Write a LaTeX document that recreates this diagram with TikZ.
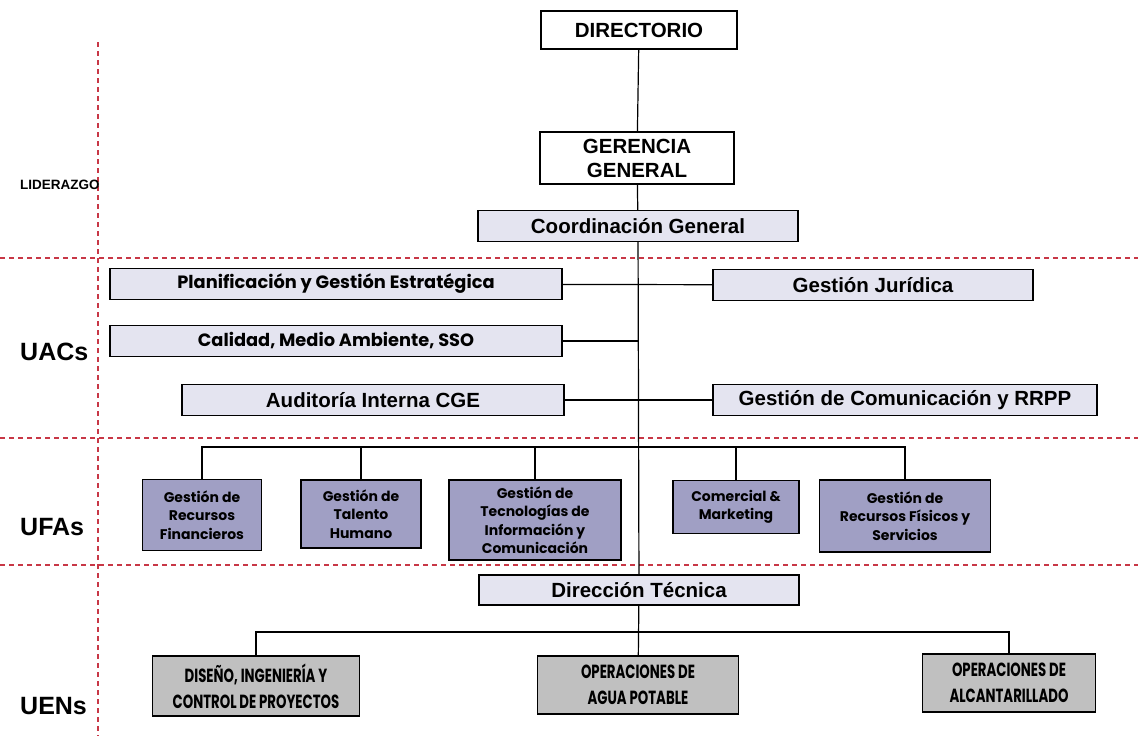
\documentclass[tikz,border=0pt]{standalone}
\usepackage{fontspec}
\setmainfont{Liberation Sans}
\newfontfamily\gothic{Poppins}
\newfontfamily\gothicnarrow[FakeStretch=0.7]{Poppins}
\usetikzlibrary{shapes}
\definecolor{cLight}{RGB}{228,228,240}
\definecolor{cPurple}{RGB}{160,159,196}
\definecolor{cGray}{RGB}{192,192,192}
\definecolor{cRed}{RGB}{200,55,70}
\tikzstyle{unit} = [draw, line width=1.4pt, rectangle, inner sep=0pt, align=center]
\tikzstyle{head} = [unit, fill=white, font=\fontsize{20.5}{24}\selectfont\bfseries]
\tikzstyle{uac} = [unit, fill=cLight, minimum height=31pt, font=\fontsize{20.5}{23}\selectfont\bfseries]
\tikzstyle{uacg} = [unit, fill=cLight, minimum height=31pt, font=\gothic\fontsize{17.8}{20}\selectfont\bfseries]
\tikzstyle{ufa} = [unit, fill=cPurple, font=\gothic\fontsize{14}{18.5}\selectfont\bfseries]
\tikzstyle{uen} = [unit, fill=cGray, line width=1.8pt, font=\gothicnarrow\fontsize{19}{26}\selectfont\bfseries]
\tikzstyle{level} = [draw=cRed, line width=1.2pt, dash pattern=on 5pt off 4pt]
\tikzstyle{tag} = [anchor=west, inner sep=0pt, font=\bfseries]
\tikzstyle{link} = [draw, line width=1.2pt]

\begin{document}
\begin{tikzpicture}[x=1pt, y=-1pt]
          \useasboundingbox (0,0) rectangle (1138,736);

          % Level lines
          \draw [level] (98,42) -- (98,736);
          \draw [level] (0,258) -- (1138,258);
          \draw [level] (0,438) -- (1138,438);
          \draw [level] (0,565) -- (1138,565);

          % Level labels
          \node [tag, font=\fontsize{13.5}{15}\selectfont\bfseries] (lid) at (20,185) {LIDERAZGO};
          \node [tag, font=\fontsize{25}{27}\selectfont\bfseries] (uacs) at (20,352) {UACs};
          \node [tag, font=\fontsize{25}{27}\selectfont\bfseries] (ufas) at (20,527) {UFAs};
          \node [tag, font=\fontsize{25}{27}\selectfont\bfseries] (uens) at (20,706) {UENs};

          % Place the blocks
          \node [head, minimum width=196pt, minimum height=38pt] (dir) at (639,30) {DIRECTORIO};
          \node [head, minimum width=194pt, minimum height=52pt] (ger) at (637,158) {GERENCIA\\GENERAL};
          \node [uac, minimum width=320pt] (coord) at (638,226) {Coordinaci\'on General};

          \node [uacg, minimum width=452pt] (plan) at (336,284) {Planificaci\'on y Gesti\'on Estrat\'egica};
          \node [uacg, minimum width=452pt] (cal) at (336,341) {Calidad, Medio Ambiente, SSO};
          \node [uac, minimum width=382pt] (aud) at (373,400) {Auditor\'ia Interna CGE};
          \node [uac, minimum width=320pt] (jur) at (873,285) {Gesti\'on Jur\'idica};
          \node [uac, minimum width=384pt] (com) at (905,400) {Gesti\'on de Comunicaci\'on y RRPP};

          \node [ufa, minimum width=119pt, minimum height=71pt] (fin) at (202,515) {Gesti\'on de\\Recursos\\Financieros};
          \node [ufa, minimum width=120pt, minimum height=68pt] (tal) at (361,514) {Gesti\'on de\\Talento\\Humano};
          \node [ufa, minimum width=172pt, minimum height=80pt] (tec) at (535,520) {Gesti\'on de\\Tecnolog\'ias de\\Informaci\'on y\\Comunicaci\'on};
          \node [ufa, minimum width=126pt, minimum height=53pt] (mkt) at (736,507) {Comercial \&\\Marketing};
          \node [ufa, minimum width=171pt, minimum height=72pt] (fis) at (905,516) {Gesti\'on de\\Recursos F\'isicos y\\Servicios};

          \node [uac, minimum width=320pt, minimum height=30pt] (dt) at (639,590) {Direcci\'on T\'ecnica};

          \node [uen, minimum width=207pt, minimum height=60pt] (dis) at (256,686) {DISE\~NO, INGENIER\'IA Y\\CONTROL DE PROYECTOS};
          \node [uen, minimum width=201pt, minimum height=58pt] (agua) at (638,685) {OPERACIONES DE\\AGUA POTABLE};
          \node [uen, minimum width=173pt, minimum height=58pt] (alc) at (1009,683) {OPERACIONES DE\\ALCANTARILLADO};

          \coordinate (ufa) at (639,447);
          \coordinate (uen) at (639,632);

          % Connections
          \draw [link] (dir) -- (ger);
          \draw [link] (ger) -- (coord);
          \draw [link] (coord) -- (dt);
          \draw [link] (plan) -- (jur);
          \draw [link] (cal.east) -- (cal.east -| coord);
          \draw [link] (aud) -- (com);
          \draw [link] (fin.north) |- (ufa) -| (fis.north);
          \draw [link] (tal.north) -- (tal.north |- ufa);
          \draw [link] (tec.north) -- (tec.north |- ufa);
          \draw [link] (mkt.north) -- (mkt.north |- ufa);
          \draw [link] (dis.north) |- (uen) -| (alc.north);
          \draw [link] (dt) -- (agua);
      \end{tikzpicture}
\end{document}
